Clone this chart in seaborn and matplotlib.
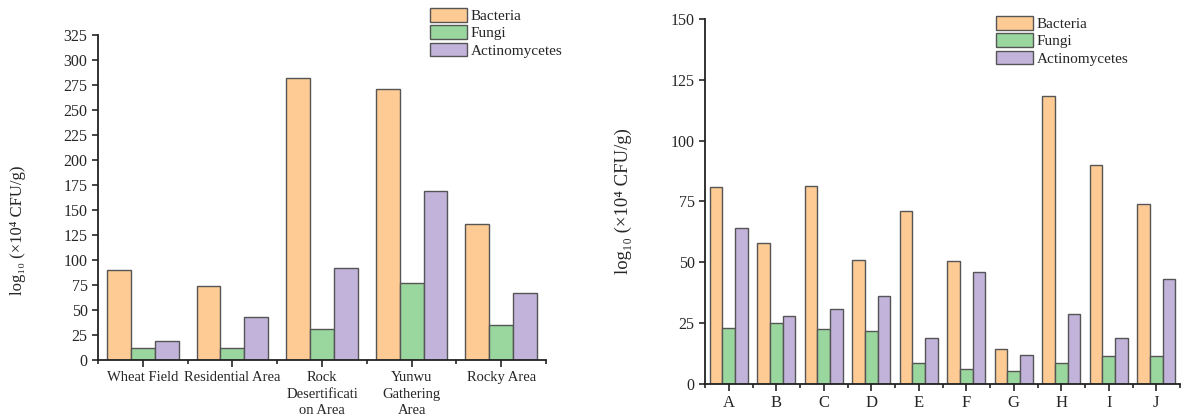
import matplotlib
matplotlib.use("Agg")
import matplotlib.pyplot as plt
import numpy as np
import pandas as pd
import seaborn as sns

# left panel: land types
sites = ["Wheat Field", "Residential Area", "Rock\nDesertificati\non Area",
         "Yunwu\nGathering\nArea", "Rocky Area"]
site_bacteria = [90.3, 74.2, 282.3, 271.0, 136.5]
site_fungi = [11.7, 12.0, 31.0, 76.6, 35.5]
site_actino = [19.4, 43.5, 91.6, 169.0, 67.0]

# right panel: samples A-J
samples = ["A", "B", "C", "D", "E", "F", "G", "H", "I", "J"]
samp_bacteria = [80.9, 58.1, 81.3, 51.1, 71.3, 50.5, 14.5, 118.3, 90.0, 74.0]
samp_fungi = [23.2, 25.0, 22.5, 21.6, 8.5, 6.1, 5.3, 8.5, 11.5, 11.5]
samp_actino = [64.1, 28.0, 31.0, 36.2, 18.9, 46.0, 12.0, 28.7, 19.1, 43.3]

groups = ["Bacteria", "Fungi", "Actinomycetes"]
colors = {"Bacteria": "#FECB94", "Fungi": "#9AD79E", "Actinomycetes": "#C1B3D9"}

sns.set_style("ticks")
plt.rcParams["font.family"] = ["Liberation Serif", "DejaVu Serif"]

ylabel = "log₁₀ (×10⁴ CFU/g)"


def to_long(cats, bac, fun, act):
    rows = []
    for g, vals in zip(groups, [bac, fun, act]):
        for c, v in zip(cats, vals):
            rows.append({"cat": c, "group": g, "value": v})
    return pd.DataFrame(rows)


def draw(ax, cats, bac, fun, act, ymax, leg_xy, xsize, ysize):
    df = to_long(cats, bac, fun, act)
    sns.barplot(data=df, x="cat", y="value", hue="group", order=cats,
                hue_order=groups, palette=colors, saturation=1,
                edgecolor="#555555", linewidth=1.0, width=0.8,
                errorbar=None, ax=ax)
    n = len(cats)
    ax.set_xlim(-0.5, n - 0.5)
    ax.set_ylim(0, ymax)
    ax.set_yticks(np.arange(0, ymax + 1, 25))
    ax.set_xticks(np.arange(-0.5, n, 1.0), minor=True)
    ax.tick_params(axis="x", which="major", length=5, width=1.2, labelsize=xsize, pad=3)
    ax.tick_params(axis="x", which="minor", length=3, width=1.2)
    ax.tick_params(axis="y", length=4, width=1.2, labelsize=11.5)
    for lab in ax.get_xticklabels():
        lab.set_linespacing(1.35)
    for s in ["left", "bottom"]:
        ax.spines[s].set_linewidth(1.3)
        ax.spines[s].set_color("#222222")
    sns.despine(ax=ax)
    ax.set_xlabel("")
    ax.set_ylabel(ylabel, fontsize=ysize)
    ax.legend(loc="upper left", bbox_to_anchor=leg_xy,
              bbox_transform=ax.figure.transFigure, frameon=False,
              fontsize=11, handlelength=2.4, handleheight=1.0,
              labelspacing=0.15, handletextpad=0.25, borderpad=0,
              borderaxespad=0)


fig = plt.figure(figsize=(12.04, 4.16), dpi=100)
ax1 = fig.add_axes([98 / 1204, 56 / 416, 448 / 1204, 325 / 416])
ax2 = fig.add_axes([705 / 1204, 32 / 416, 475 / 1204, 365 / 416])

draw(ax1, sites, site_bacteria, site_fungi, site_actino, 325, (430 / 1204, 1 - 8 / 416), 10.5, 12)
draw(ax2, samples, samp_bacteria, samp_fungi, samp_actino, 150, (996 / 1204, 1 - 16 / 416), 12, 13.5)

ax1.yaxis.set_label_coords(-0.16, 0.4)
ax2.yaxis.set_label_coords(-0.153, 0.5)

fig.savefig("out.png", dpi=100)
